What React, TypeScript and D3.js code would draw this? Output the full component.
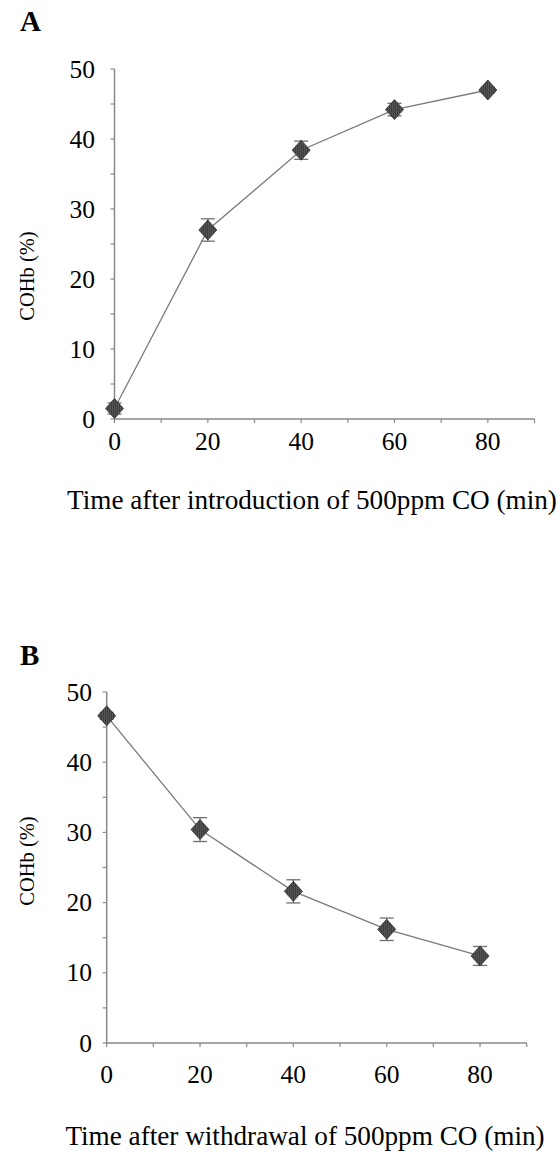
import React from "react";
import * as d3 from "d3";

// Panel A: uptake after introduction of 500 ppm CO
const timesA = [0, 20, 40, 60, 80];
const cohbA = [1.5, 27.0, 38.4, 44.2, 47.0];
const errA = [0.8, 1.6, 1.3, 0.9, 0.4];

// Panel B: elimination after withdrawal
const timesB = [0, 20, 40, 60, 80];
const cohbB = [46.6, 30.4, 21.6, 16.2, 12.4];
const errB = [0.5, 1.7, 1.65, 1.6, 1.35];

const xTickLabels = [0, 20, 40, 60, 80];
const xMinorTicks = [0, 10, 20, 30, 40, 50, 60, 70, 80, 90];
const yTickLabels = [0, 10, 20, 30, 40, 50];
const yMinorTicks = [0, 5, 10, 15, 20, 25, 30, 35, 40, 45, 50];

const serif = "'Liberation Serif', 'Times New Roman', serif";

type PanelProps = {
  letter: string;
  letterY: number;
  times: number[];
  values: number[];
  errors: number[];
  x0: number;
  y0: number;
  y50: number;
  xLabelY: number;
  yLabelX: number;
  yTitleY: number;
  title: string;
  titleX: number;
  titleY: number;
};

const Panel = (p: PanelProps) => {
  const x = d3.scaleLinear().domain([0, 90]).range([p.x0, p.x0 + 420]);
  const y = d3.scaleLinear().domain([0, 50]).range([p.y0, p.y50]);
  const pts = p.times.map((t, i) => ({ t, v: p.values[i], e: p.errors[i] }));
  const line = d3
    .line<{ t: number; v: number }>()
    .x((d) => x(d.t))
    .y((d) => y(d.v));

  return (
    <g>
      <text x={20} y={p.letterY} fontFamily={serif} fontWeight="bold" fontSize={29}>
        {p.letter}
      </text>

      {/* axes */}
      <line x1={x(0)} x2={x(0)} y1={y(0)} y2={y(50)} stroke="#8a8a8a" strokeWidth={1.5} />
      <line x1={x(0)} x2={x(90)} y1={y(0)} y2={y(0)} stroke="#8a8a8a" strokeWidth={1.5} />
      {yMinorTicks.map((v) => (
        <line key={"yt" + v} x1={x(0) - 4} x2={x(0)} y1={y(v)} y2={y(v)} stroke="#8a8a8a" strokeWidth={1.2} />
      ))}
      {xMinorTicks.map((t) => (
        <line key={"xt" + t} x1={x(t)} x2={x(t)} y1={y(0)} y2={y(0) + 4} stroke="#8a8a8a" strokeWidth={1.2} />
      ))}
      {yTickLabels.map((v) => (
        <text key={"yl" + v} x={p.yLabelX} y={y(v)} dy="0.34em" textAnchor="end" fontFamily={serif} fontSize={25.5}>
          {v}
        </text>
      ))}
      {xTickLabels.map((t) => (
        <text key={"xl" + t} x={x(t)} y={p.xLabelY} textAnchor="middle" fontFamily={serif} fontSize={25.5}>
          {t}
        </text>
      ))}

      <text
        transform={`translate(34,${p.yTitleY}) rotate(-90)`}
        textAnchor="middle"
        fontFamily={serif}
        fontSize={20.5}
      >
        COHb (%)
      </text>
      <text x={p.titleX} y={p.titleY} textAnchor="middle" fontFamily={serif} fontSize={27.2}>
        {p.title}
      </text>

      {/* data */}
      <path d={line(pts) || ""} fill="none" stroke="#7a7a7a" strokeWidth={1.3} />
      {pts.map((d) => (
        <g key={"e" + d.t} stroke="#6e6e6e" strokeWidth={1.3}>
          <line x1={x(d.t)} x2={x(d.t)} y1={y(d.v - d.e)} y2={y(d.v + d.e)} />
          <line x1={x(d.t) - 7} x2={x(d.t) + 7} y1={y(d.v - d.e)} y2={y(d.v - d.e)} />
          <line x1={x(d.t) - 7} x2={x(d.t) + 7} y1={y(d.v + d.e)} y2={y(d.v + d.e)} />
        </g>
      ))}
      {pts.map((d) => (
        <path
          key={"m" + d.t}
          d={`M${x(d.t)},${y(d.v) - 10}L${x(d.t) + 9},${y(d.v)}L${x(d.t)},${y(d.v) + 10}L${x(d.t) - 9},${y(d.v)}Z`}
          fill="url(#hatch)"
          stroke="#2e2e2e"
          strokeWidth={0.8}
        />
      ))}
    </g>
  );
};

export default function App() {
  return (
    <svg
      width={558}
      height={1153}
      style={{ position: "absolute", left: 0, top: 0, background: "#fff" }}
    >
      <defs>
        <pattern id="hatch" width={2} height={4} patternUnits="userSpaceOnUse">
          <rect width={2} height={4} fill="#3d3d3d" />
          <rect width={1} height={4} fill="#555" />
        </pattern>
      </defs>
      <Panel
        letter="A"
        letterY={31}
        times={timesA}
        values={cohbA}
        errors={errA}
        x0={114.5}
        y0={419}
        y50={69}
        xLabelY={450}
        yLabelX={95}
        yTitleY={276}
        title="Time after introduction of 500ppm CO (min)"
        titleX={312}
        titleY={509}
      />
      <Panel
        letter="B"
        letterY={665}
        times={timesB}
        values={cohbB}
        errors={errB}
        x0={106.7}
        y0={1043}
        y50={692}
        xLabelY={1083}
        yLabelX={92}
        yTitleY={861}
        title="Time after withdrawal of 500ppm CO (min)"
        titleX={305}
        titleY={1145}
      />
    </svg>
  );
}
